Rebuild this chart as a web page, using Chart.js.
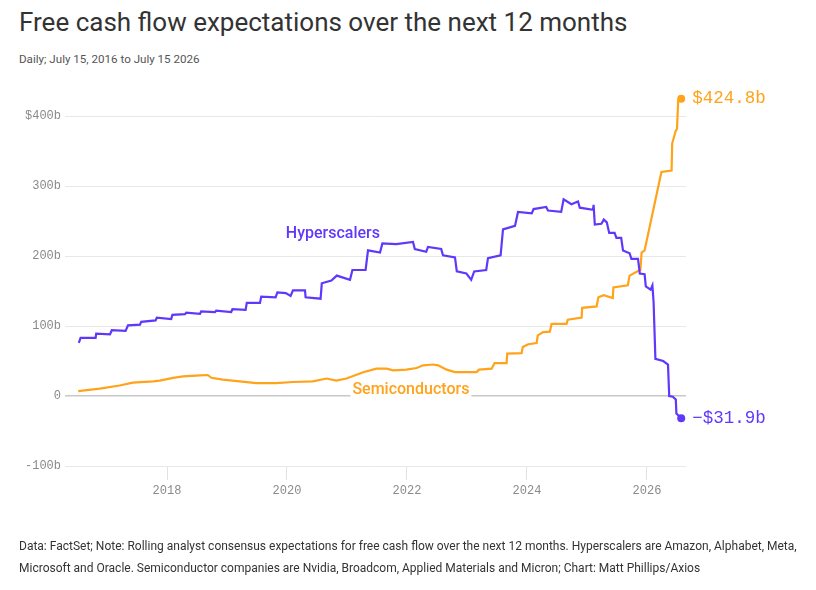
<!DOCTYPE html>
<html>
<head>
<meta charset="utf-8">
<script src="https://cdn.jsdelivr.net/npm/chart.js@4.4.1/dist/chart.umd.min.js"></script>
<style>
  html, body { margin: 0; padding: 0; background: #fff; }
  body { width: 816px; height: 590px; position: relative; overflow: hidden; font-family: Roboto, "Liberation Sans", sans-serif; }
  #title { position: absolute; left: 19px; top: 7px; font-size: 26px; line-height: 30px; color: #333; white-space: nowrap; }
  #subtitle { position: absolute; left: 19px; top: 51px; font-size: 11.6px; line-height: 16px; color: #555; white-space: nowrap; }
  #note { position: absolute; left: 19px; top: 535px; font-size: 12px; line-height: 22px; color: #333; white-space: nowrap; }
  #chart { position: absolute; left: 0; top: 0; }
</style>
</head>
<body>
<div id="title">Free cash flow expectations over the next 12 months</div>
<div id="subtitle">Daily; July 15, 2016 to July 15 2026</div>
<canvas id="chart" width="816" height="590"></canvas>
<div id="note">Data: FactSet; Note: Rolling analyst consensus expectations for free cash flow over the next 12 months. Hyperscalers are Amazon, Alphabet, Meta,<br>Microsoft and Oracle. Semiconductor companies are Nvidia, Broadcom, Applied Materials and Micron; Chart: Matt Phillips/Axios</div>
<script>
// values, $ billions, x as decimal years
const hyperYears = [2016.53, 2016.56, 2016.81, 2016.82, 2017.05, 2017.08, 2017.31, 2017.35, 2017.55, 2017.57,
  2017.81, 2017.83, 2018.07, 2018.09, 2018.30, 2018.32, 2018.55, 2018.57, 2018.80, 2018.82,
  2019.07, 2019.09, 2019.31, 2019.33, 2019.55, 2019.57, 2019.81, 2019.84, 2019.98, 2020.06,
  2020.10, 2020.30, 2020.31, 2020.56, 2020.58, 2020.74, 2020.83, 2021.05, 2021.09, 2021.31,
  2021.35, 2021.55, 2021.59, 2021.82, 2022.10, 2022.13, 2022.32, 2022.35, 2022.57, 2022.60,
  2022.80, 2022.83, 2022.99, 2023.07, 2023.12, 2023.32, 2023.35, 2023.56, 2023.60, 2023.80,
  2023.85, 2024.08, 2024.11, 2024.32, 2024.35, 2024.57, 2024.61, 2024.74, 2024.85, 2024.88,
  2025.10, 2025.11, 2025.13, 2025.24, 2025.28, 2025.33, 2025.37, 2025.46, 2025.49, 2025.57,
  2025.60, 2025.71, 2025.74, 2025.85, 2025.88, 2025.96, 2025.98, 2026.06, 2026.09, 2026.11,
  2026.14, 2026.27, 2026.35, 2026.37, 2026.43, 2026.48, 2026.49, 2026.57];
const hyperValues = [76, 83, 83, 89, 88, 94, 93, 101, 102, 106,
  108, 112, 110, 116, 117, 119, 117.5, 121, 120, 122,
  120, 124, 123, 133, 133, 142, 141, 148, 147, 143,
  151, 151, 141, 139, 161, 165, 172, 166, 180, 180,
  208, 205, 218, 217, 220, 210, 206, 213, 210, 201,
  198, 178, 175, 166, 178, 180, 197, 201, 238, 243,
  263, 261, 267, 270, 265, 263, 281, 274, 278, 269,
  266, 273, 245, 246, 252, 248, 233, 233, 226, 226,
  208, 204, 196, 196, 175, 174, 156.5, 152, 158, 134,
  53, 50, 45, 0, -1, -5, -25, -31.9];

const semiYears = [2016.52, 2016.88, 2017.21, 2017.43, 2017.77, 2017.88, 2018.10, 2018.27, 2018.55, 2018.68,
  2018.74, 2018.93, 2019.21, 2019.49, 2019.82, 2020.10, 2020.43, 2020.66, 2020.82, 2020.99,
  2021.27, 2021.49, 2021.66, 2021.77, 2021.99, 2022.16, 2022.27, 2022.43, 2022.52, 2022.66,
  2022.80, 2023.16, 2023.20, 2023.41, 2023.46, 2023.66, 2023.67, 2023.91, 2023.93, 2024.02,
  2024.16, 2024.18, 2024.27, 2024.38, 2024.41, 2024.66, 2024.68, 2024.91, 2024.92, 2025.16,
  2025.19, 2025.28, 2025.43, 2025.44, 2025.68, 2025.71, 2025.85, 2025.89, 2025.91, 2025.96,
  2026.24, 2026.41, 2026.42, 2026.48, 2026.50, 2026.52, 2026.57];
const semiValues = [7, 10.5, 15, 19, 21, 22, 26, 28, 29.5, 30,
  26, 23.4, 21, 18.5, 18.5, 20, 21, 25, 22, 25,
  34, 39, 39, 36.7, 37.7, 40, 43.8, 45, 43.8, 37.7,
  34.2, 34.2, 37.7, 39, 47, 47, 60.5, 61.3, 70, 74,
  75.6, 86.6, 91.3, 92, 103, 103, 109, 112, 126, 128,
  141, 144, 140, 155, 158, 172, 178.5, 180, 205, 208,
  320, 322, 361, 379, 382, 422, 424.8];

const seriesNames = ["Hyperscalers", "Semiconductors"];
const yTicks = [-100, 0, 100, 200, 300, 400];
const xTicks = [2018, 2020, 2022, 2024, 2026];

const purple = "#5f38fb";
const orange = "#ffa31a";
const mono = "'Liberation Mono', 'DejaVu Sans Mono', monospace";

const toPoints = (xs, ys) => xs.map((x, i) => ({ x: x, y: ys[i] }));
const lastDot = (ctx) => ctx.dataIndex === ctx.dataset.data.length - 1 ? 4 : 0;

const fmtB = (v) => (v < 0 ? "\u2212$" : "$") + Math.abs(v).toFixed(1) + "b";

const labelPlugin = {
  id: "seriesLabels",
  afterDatasetsDraw(chart) {
    const { ctx, scales } = chart;
    ctx.save();
    // end value labels
    chart.data.datasets.forEach((ds, i) => {
      const meta = chart.getDatasetMeta(i);
      const pt = meta.data[meta.data.length - 1];
      const v = ds.data[ds.data.length - 1].y;
      ctx.font = "17.5px " + mono;
      ctx.fillStyle = ds.borderColor;
      ctx.textAlign = "left";
      ctx.textBaseline = "middle";
      ctx.fillText(fmtB(v), pt.x + 11, pt.y);
    });
    // series names
    ctx.font = "500 16px Roboto, 'Liberation Sans', sans-serif";
    ctx.textBaseline = "middle";
    ctx.textAlign = "left";
    const anchors = [[2019.98, 232], [2021.09, 8.5]];
    seriesNames.forEach((name, i) => {
      const px = scales.x.getPixelForValue(anchors[i][0]);
      const py = scales.y.getPixelForValue(anchors[i][1]);
      const w = ctx.measureText(name).width;
      ctx.fillStyle = "#fff";
      ctx.fillRect(px - 2, py - 8, w + 4, 16);
      ctx.fillStyle = chart.data.datasets[i].borderColor;
      ctx.fillText(name, px, py);
    });
    ctx.restore();
  }
};

new Chart(document.getElementById("chart"), {
  type: "line",
  data: {
    datasets: [
      {
        label: seriesNames[0],
        data: toPoints(hyperYears, hyperValues),
        borderColor: purple,
        backgroundColor: purple,
        borderWidth: 2.2,
        pointRadius: lastDot,
        pointHoverRadius: 0,
        pointBorderWidth: 0,
        tension: 0,
        clip: false
      },
      {
        label: seriesNames[1],
        data: toPoints(semiYears, semiValues),
        borderColor: orange,
        backgroundColor: orange,
        borderWidth: 2.2,
        pointRadius: lastDot,
        pointHoverRadius: 0,
        pointBorderWidth: 0,
        tension: 0,
        clip: false
      }
    ]
  },
  options: {
    responsive: false,
    animation: false,
    events: [],
    layout: { padding: { left: 0, right: 130, top: 88, bottom: 84 } },
    plugins: { legend: { display: false }, tooltip: { enabled: false } },
    scales: {
      x: {
        type: "linear",
        min: 2016.3,
        max: 2026.65,
        afterBuildTicks: (s) => { s.ticks = xTicks.map(v => ({ value: v })); },
        afterFit: (s) => { s.height = 40; },
        border: { display: false },
        grid: { drawOnChartArea: false, drawTicks: true, tickLength: 14, color: "#e2e2e2" },
        ticks: {
          padding: 4,
          color: "#8a8a8a",
          font: { family: mono, size: 12 },
          maxRotation: 0,
          callback: (v) => String(v)
        }
      },
      y: {
        min: -100,
        max: 440,
        afterBuildTicks: (s) => { s.ticks = yTicks.map(v => ({ value: v })); },
        afterFit: (s) => { s.width = 65; },
        border: { display: false },
        grid: {
          drawTicks: false,
          color: (c) => c.tick && c.tick.value === 0 ? "#c8c8c8" : "#e8e8e8",
          lineWidth: (c) => c.tick && c.tick.value === 0 ? 1.5 : 1
        },
        ticks: {
          padding: 4,
          color: "#8a8a8a",
          font: { family: mono, size: 12 },
          callback: (v) => v === 400 ? "$400b" : v === 0 ? "0" : (v < 0 ? "-" : "") + Math.abs(v) + "b"
        }
      }
    }
  },
  plugins: [labelPlugin]
});
</script>
</body>
</html>
